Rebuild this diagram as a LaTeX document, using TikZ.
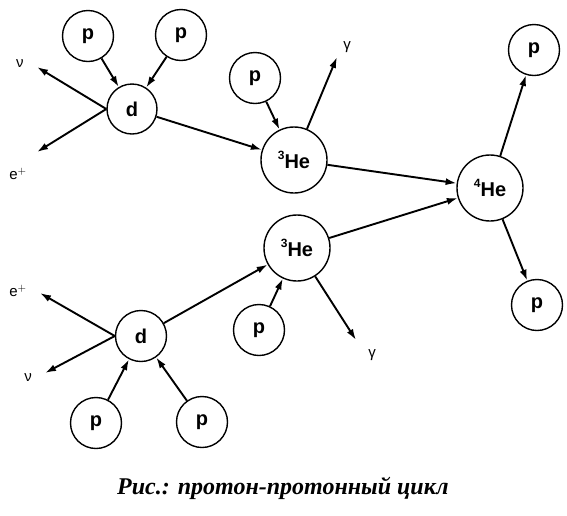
\documentclass[tikz,border=0pt]{standalone}
\usepackage{fontspec}
\setmainfont{Liberation Serif}
\newfontfamily\lblfont{Liberation Sans}
\usetikzlibrary{arrows.meta}
\begin{document}
\begin{tikzpicture}[x=1pt,y=-1pt,
  part/.style={circle,draw,line width=1.4pt,inner sep=0pt,font=\lblfont\bfseries\fontsize{20}{22}\selectfont},
  small/.style={part,minimum size=51pt},
  big/.style={part,minimum size=66pt},
  arr/.style={line width=1.9pt,-{Latex[length=11pt,width=7pt]}},
  emit/.style={font=\lblfont\fontsize{15}{17}\selectfont,inner sep=0pt}]
\useasboundingbox (0,0) rectangle (567,515);
% top branch
\node[small] (p1) at (88,36) {p};
\node[small] (p2) at (181,35) {p};
\node[small,minimum size=50pt] (d1) at (132,109) {d};
\node[small] (p3) at (255,78) {p};
\node[big] (h1) at (294,160) {\raisebox{0.42em}{\fontsize{12}{13}\selectfont 3}He};
% helium-4
\node[big] (h4) at (490,188) {\raisebox{0.42em}{\fontsize{12}{13}\selectfont 4}He};
\node[small] (pr1) at (534,50) {p};
\node[small] (pr2) at (537,305) {p};
% bottom branch
\node[big] (h2) at (297,248) {\raisebox{0.42em}{\fontsize{12}{13}\selectfont 3}He};
\node[small] (d2) at (141,336) {d};
\node[small] (p4) at (96,423) {p};
\node[small] (p5) at (202,422) {p};
\node[small] (p6) at (259,330) {p};
% emitted particles
\coordinate (nu1) at (37,67);
\coordinate (ep1) at (37,152);
\coordinate (g1) at (337,57);
\coordinate (ep2) at (40,293);
\coordinate (nu2) at (45,373);
\coordinate (g2) at (356,340);
\node[emit] (lnu1) at (20,64) {ν};
\node[emit] (lep1) at (18,174) {e$^{+}$};
\node[emit] (lg1) at (347,47) {γ};
\node[emit] (lep2) at (18,291) {e$^{+}$};
\node[emit] (lnu2) at (28,378) {ν};
\node[emit] (lg2) at (372,355) {γ};
% connectors
\draw[arr] (p1) -- (d1);
\draw[arr] (p2) -- (d1);
\draw[arr] (d1.west) -- (nu1);
\draw[arr] (d1.west) -- (ep1);
\draw[arr] (d1) -- (h1);
\draw[arr] (p3) -- (h1);
\draw[arr] (h1) -- (g1);
\draw[arr] (h1) -- (h4);
\draw[arr] (h2) -- (h4);
\draw[arr] (h4) -- (pr1);
\draw[arr] (h4) -- (pr2);
\draw[arr] (p4) -- (d2);
\draw[arr] (p5) -- (d2);
\draw[arr] (d2.west) -- (ep2);
\draw[arr] (d2.west) -- (nu2);
\draw[arr] (d2) -- (h2);
\draw[arr] (p6) -- (h2);
\draw[arr] (h2) -- (g2);
% caption
\node[font=\bfseries\itshape\fontsize{24}{28}\selectfont] (cap) at (283,488) {Рис.: протон-протонный цикл};
\end{tikzpicture}
\end{document}
